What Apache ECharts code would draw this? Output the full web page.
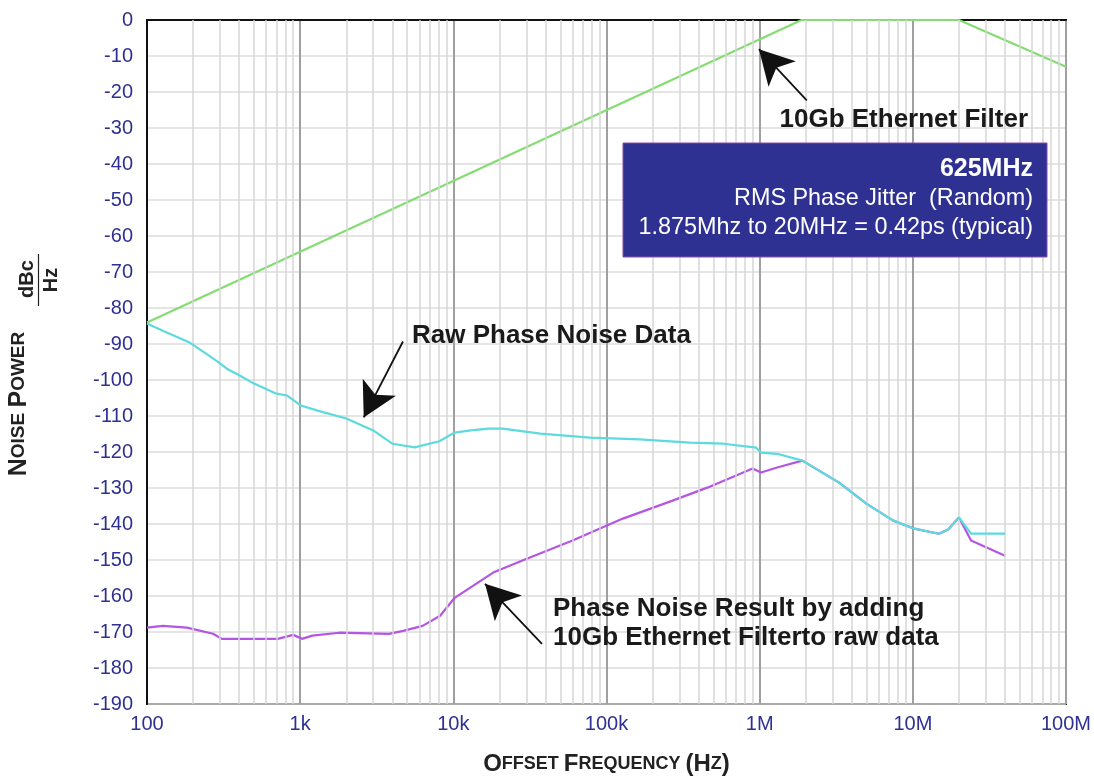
<!DOCTYPE html>
<html>
<head>
<meta charset="utf-8">
<script src="https://cdn.jsdelivr.net/npm/echarts@6/dist/echarts.min.js"></script>
<style>
html,body{margin:0;padding:0;background:#fff;}
#chart{width:1094px;height:777px;}
</style>
</head>
<body>
<div id="chart"></div>
<script>
// ---- data ----
const xTickValues = [100, 1e3, 1e4, 1e5, 1e6, 1e7, 1e8];
const xTickLabels = ['100', '1k', '10k', '100k', '1M', '10M', '100M'];

const filterFreq = [100, 1875000, 20000000, 100000000];
const filterDb   = [-84, 0, 0, -13];

const rawFreq = [100, 130, 190, 250, 300, 330, 400, 500, 700, 820, 1000, 1300, 2000, 3000, 4000, 5600, 8100, 10200, 13000, 17000, 21000, 37000, 78000, 165000, 350000, 580000, 950000, 1020000, 1300000, 1900000, 3300000, 5000000, 7400000, 10200000, 14800000, 17000000, 20000000, 24000000, 40000000];
const rawDb   = [-84.3, -86.5, -89.6, -93, -95.4, -96.8, -98.7, -101, -103.8, -104.3, -107, -108.5, -110.7, -114, -117.7, -118.7, -117, -114.6, -114, -113.5, -113.5, -114.9, -116, -116.5, -117.4, -117.7, -118.8, -120.2, -120.5, -122.4, -128.5, -134.4, -139, -141.3, -142.7, -141.5, -138.2, -142.7, -142.7];

const resultFreq = [100, 127, 182, 270, 308, 500, 715, 900, 1030, 1200, 1800, 3800, 4700, 6300, 8200, 10200, 18200, 28000, 60000, 128000, 270000, 455000, 900000, 1020000, 1300000, 1900000, 3300000, 5000000, 7400000, 10200000, 14800000, 17000000, 20000000, 24000000, 40000000];
const resultDb   = [-168.8, -168.3, -168.8, -170.5, -171.9, -171.9, -171.9, -170.8, -171.9, -171, -170.2, -170.5, -169.7, -168.3, -165.5, -160.5, -153.5, -150.2, -144.6, -138.5, -133.5, -129.9, -124.6, -125.7, -124.3, -122.4, -128.5, -134.4, -139, -141.3, -142.7, -141.5, -138.2, -144.6, -148.8];

// minor log grid multipliers
const minorMult = [2, 3, 4, 5, 6, 7, 8, 9];

// annotation arrows: [tailFreq, tailDb, tipFreq, tipDb]
const arrowFilter = [2030000, -22.3, 989000, -8.1];
const arrowRaw    = [4690, -89.3, 2600, -110.4];
const arrowResult = [37900, -173.3, 16100, -156.6];

// ---- build ----
const zip = (a, b) => a.map((v, i) => [v, b[i]]);
const minorLines = [];
for (let d = 100; d < 1e8; d *= 10) {
  minorMult.forEach(m => minorLines.push({ xAxis: d * m }));
}
const arrowItem = a => [
  { coord: [a[0], a[1]], symbol: 'none' },
  { coord: [a[2], a[3]], symbol: 'arrow', symbolSize: [28, 34] }
];

const navy = '#2e3192';
const FONT = '"Liberation Sans", Arial, Helvetica, sans-serif';

const chart = echarts.init(document.getElementById('chart'));
chart.setOption({
  animation: false,
  backgroundColor: '#fff',
  grid: { left: 147, right: 28, top: 20, bottom: 73, show: true, borderColor: '#111', borderWidth: 2, containLabel: false, outerBoundsMode: 'none' },
  xAxis: {
    type: 'log', logBase: 10, min: 100, max: 1e8, splitNumber: 6,
    axisLine: { show: true, lineStyle: { color: '#111', width: 2 } },
    axisTick: { show: false },
    axisLabel: {
      color: navy, fontSize: 20, fontFamily: FONT, margin: 10,
      formatter: v => { const i = xTickValues.findIndex(t => Math.abs(Math.log10(t) - Math.log10(v)) < 1e-6); return i >= 0 ? xTickLabels[i] : ''; }
    },
    splitLine: { show: true, lineStyle: { color: '#a0a0a0', width: 2 } },
    name: '{a|O}{b|FFSET }{a|F}{b|REQUENCY }{a|(H}{b|Z}{a|)}',
    nameLocation: 'middle', nameGap: 48,
    nameTextStyle: {
      rich: {
        a: { fontSize: 24, fontWeight: 'bold', color: '#222', fontFamily: FONT },
        b: { fontSize: 18, fontWeight: 'bold', color: '#222', fontFamily: FONT }
      }
    }
  },
  yAxis: {
    type: 'value', min: -190, max: 0, interval: 10,
    axisLine: { show: true, lineStyle: { color: '#111', width: 2 } },
    axisTick: { show: false },
    axisLabel: { color: navy, fontSize: 20, fontFamily: FONT, margin: 14 },
    splitLine: { show: true, lineStyle: { color: '#dcdcdc', width: 1.5 } }
  },
  series: [
    {
      type: 'scatter', data: [], z: 1, silent: true,
      markLine: {
        silent: true, symbol: 'none', label: { show: false },
        lineStyle: { color: '#d6d6d6', width: 1.5, type: 'solid' },
        data: minorLines
      }
    },
    {
      name: 'filter', type: 'line', data: zip(filterFreq, filterDb), z: 3,
      showSymbol: false, symbol: 'none', smooth: false,
      lineStyle: { color: '#84dc72', width: 2.2 }
    },
    {
      name: 'result', type: 'line', data: zip(resultFreq, resultDb), z: 4,
      showSymbol: false, symbol: 'none',
      lineStyle: { color: '#b555e3', width: 2.2 }
    },
    {
      name: 'raw', type: 'line', data: zip(rawFreq, rawDb), z: 5,
      showSymbol: false, symbol: 'none',
      lineStyle: { color: '#5cdade', width: 2.2 }
    },
    {
      type: 'scatter', data: [], z: 10, silent: true,
      markLine: {
        silent: true, label: { show: false },
        lineStyle: { color: '#111', width: 1.8, type: 'solid' },
        itemStyle: { color: '#111' },
        data: [arrowItem(arrowFilter), arrowItem(arrowRaw), arrowItem(arrowResult)]
      }
    }
  ],
  graphic: [
    // Y axis name
    {
      type: 'text', x: 19, y: 404, rotation: Math.PI / 2, z: 20,
      style: {
        text: '{a|N}{b|OISE }{a|P}{b|OWER}', align: 'center', verticalAlign: 'middle',
        rich: {
          a: { fontSize: 25, fontWeight: 'bold', fill: '#222', fontFamily: FONT },
          b: { fontSize: 19, fontWeight: 'bold', fill: '#222', fontFamily: FONT }
        }
      }
    },
    {
      type: 'text', x: 27, y: 279, rotation: Math.PI / 2, z: 20,
      style: { text: 'dBc', align: 'center', verticalAlign: 'middle', fontSize: 20, fontWeight: 'bold', fill: '#222', fontFamily: FONT }
    },
    {
      type: 'text', x: 51, y: 280, rotation: Math.PI / 2, z: 20,
      style: { text: 'Hz', align: 'center', verticalAlign: 'middle', fontSize: 20, fontWeight: 'bold', fill: '#222', fontFamily: FONT }
    },
    {
      type: 'line', z: 20, shape: { x1: 38.5, y1: 254, x2: 38.5, y2: 306 },
      style: { stroke: '#222', lineWidth: 1.2 }
    },
    // annotation texts
    {
      type: 'text', x: 1028, y: 120, z: 20,
      style: { text: '10Gb Ethernet Filter', align: 'right', verticalAlign: 'middle', fontSize: 26, fontWeight: 'bold', fill: '#1a1a1a', fontFamily: FONT }
    },
    {
      type: 'text', x: 412, y: 336, z: 20,
      style: { text: 'Raw Phase Noise Data', align: 'left', verticalAlign: 'middle', fontSize: 26, fontWeight: 'bold', fill: '#1a1a1a', fontFamily: FONT }
    },
    {
      type: 'text', x: 553, y: 609, z: 20,
      style: { text: 'Phase Noise Result by adding', align: 'left', verticalAlign: 'middle', fontSize: 26, fontWeight: 'bold', fill: '#1a1a1a', fontFamily: FONT }
    },
    {
      type: 'text', x: 553, y: 638, z: 20,
      style: { text: '10Gb Ethernet Filterto raw data', align: 'left', verticalAlign: 'middle', fontSize: 26, fontWeight: 'bold', fill: '#1a1a1a', fontFamily: FONT }
    },
    // info box
    {
      type: 'rect', z: 20, shape: { x: 623, y: 143, width: 424, height: 114 },
      style: { fill: '#2e3192', stroke: '#8a4fa8', lineWidth: 1 }
    },
    {
      type: 'text', x: 1033, y: 169, z: 21,
      style: { text: '625MHz', align: 'right', verticalAlign: 'middle', fontSize: 25, fontWeight: 'bold', fill: '#fff', fontFamily: FONT }
    },
    {
      type: 'text', x: 1033, y: 199, z: 21,
      style: { text: 'RMS Phase Jitter  (Random)', align: 'right', verticalAlign: 'middle', fontSize: 23.4, fill: '#fff', fontFamily: FONT }
    },
    {
      type: 'text', x: 1033, y: 228, z: 21,
      style: { text: '1.875Mhz to 20MHz = 0.42ps (typical)', align: 'right', verticalAlign: 'middle', fontSize: 23.4, fill: '#fff', fontFamily: FONT }
    }
  ]
});
</script>
</body>
</html>
